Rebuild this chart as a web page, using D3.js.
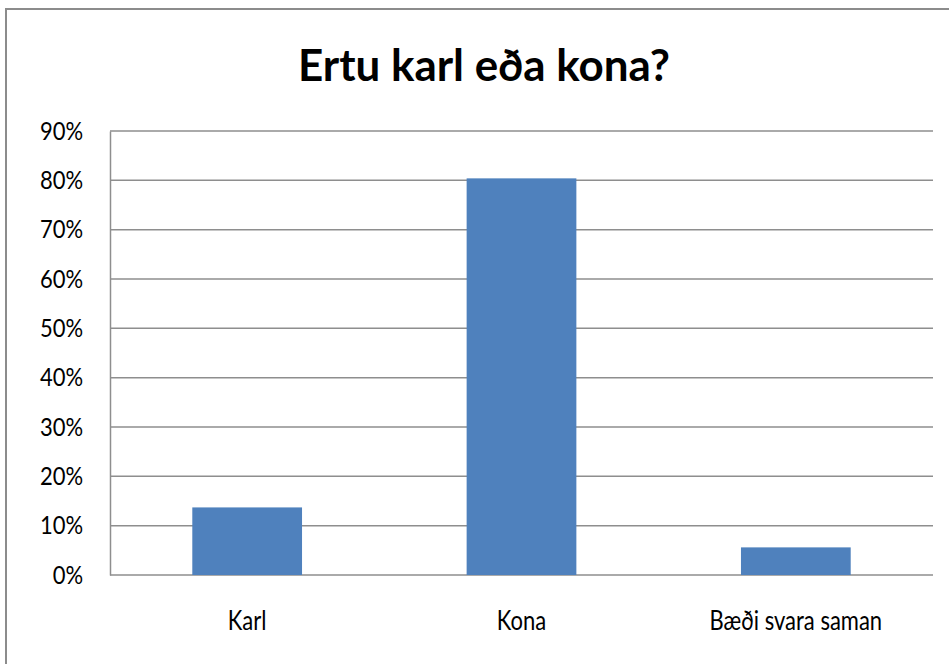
<!DOCTYPE html>
<html><head><meta charset="utf-8">
<script src="https://cdn.jsdelivr.net/npm/d3@7/dist/d3.min.js"></script>
<style>body{margin:0;background:#fff}svg{display:block}</style>
</head><body><svg id="c" width="949" height="664"></svg>
<script>
const title = "Ertu karl eða kona?";
const categories = ["Karl", "Kona", "Bæði svara saman"];
const values = [0.137, 0.804, 0.056];
const yTicks = [0, 0.1, 0.2, 0.3, 0.4, 0.5, 0.6, 0.7, 0.8, 0.9];

const svg = d3.select("#c");
const W = 949, H = 664;
const m = {left: 110, right: 16, top: 131, bottom: 89};
const fontFam = "Lato, 'Open Sans', sans-serif";

svg.append("rect").attr("x", 6).attr("y", 9).attr("width", W + 10).attr("height", H + 10)
  .attr("fill", "#fff").attr("stroke", "#8c8c8c").attr("stroke-width", 2);

const x = d3.scaleBand().domain(categories).range([m.left, W - m.right])
  .paddingInner(0.6).paddingOuter(0.3);
const y = d3.scaleLinear().domain([0, 0.9]).range([H - m.bottom, m.top]);

// gridlines
svg.append("g").selectAll("line").data(yTicks).join("line")
  .attr("x1", m.left).attr("x2", W - m.right)
  .attr("y1", d => y(d)).attr("y2", d => y(d))
  .attr("stroke", "#8e8e8e").attr("stroke-width", 1.5);

function stretch(sel, sy) {
  sel.each(function () {
    const t = d3.select(this);
    const tx = +t.attr("x") || 0, ty = +t.attr("y") || 0;
    t.attr("transform", `translate(${tx},${ty}) scale(1,${sy}) translate(${-tx},${-ty})`);
  });
}

// y axis
const ya = svg.append("g").attr("transform", `translate(${m.left},0)`)
  .call(d3.axisLeft(y).tickValues(yTicks).tickFormat(d3.format(".0%")).tickSize(0).tickPadding(27));
ya.select(".domain").attr("stroke", "#8e8e8e").attr("stroke-width", 1.5);
ya.selectAll("text").attr("font-family", fontFam).attr("font-size", 22).attr("fill", "#000");
stretch(ya.selectAll("text"), 1.18);

// bars
svg.append("g").selectAll("rect").data(categories).join("rect")
  .attr("x", d => x(d)).attr("width", x.bandwidth())
  .attr("y", (d, i) => y(values[i])).attr("height", (d, i) => y(0) - y(values[i]))
  .attr("fill", "#4f81bd");

// x axis
const xa = svg.append("g").attr("transform", `translate(0,${y(0)})`)
  .call(d3.axisBottom(x).tickSize(0).tickPadding(46));
xa.select(".domain").remove();
xa.selectAll("text").attr("font-family", fontFam).attr("font-size", 22).attr("fill", "#000")
  .attr("dy", "0.35em");
stretch(xa.selectAll("text"), 1.22);

// title
svg.append("text").attr("x", 484).attr("y", 81).attr("text-anchor", "middle")
  .attr("font-family", fontFam).attr("font-weight", "bold").attr("font-size", 44)
  .attr("textLength", 372).attr("lengthAdjust", "spacingAndGlyphs")
  .text(title);
</script></body></html>
